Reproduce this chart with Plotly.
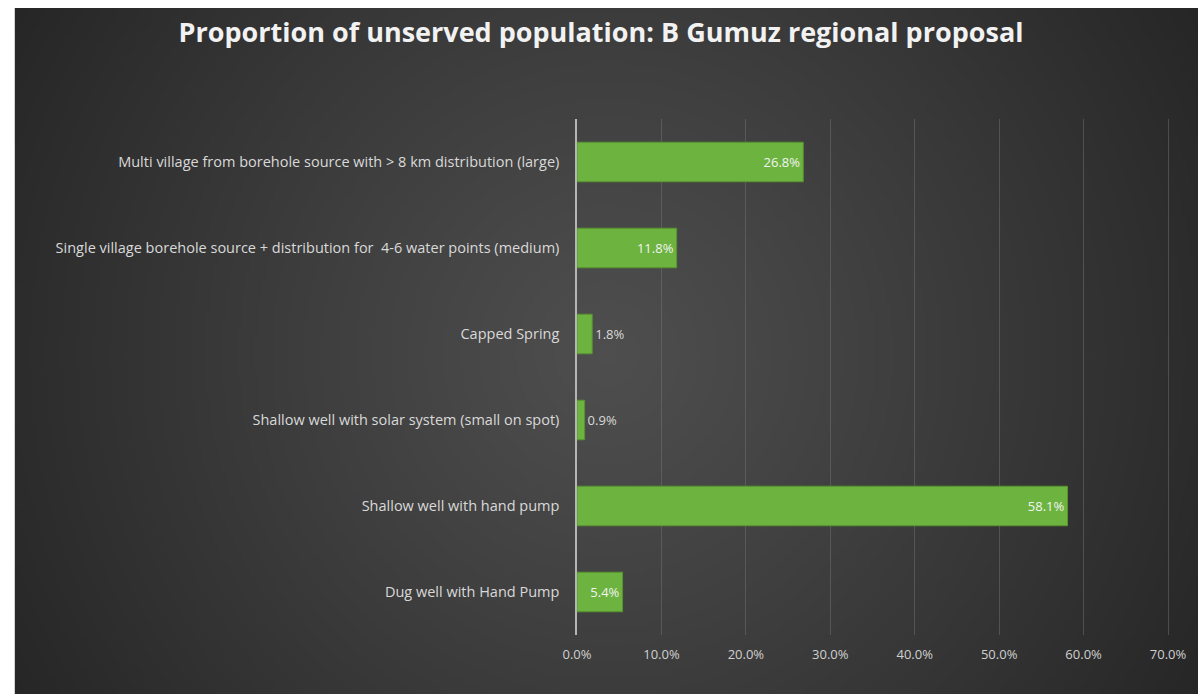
import base64
import struct
import zlib

import plotly.graph_objects as go

# Categories listed top to bottom as they appear on the chart
categories = [
    "Multi village from borehole source with > 8 km distribution (large)",
    "Single village borehole source + distribution for  4-6 water points (medium)",
    "Capped Spring",
    "Shallow well with solar system (small on spot)",
    "Shallow well with hand pump",
    "Dug well with Hand Pump",
]
shares = [0.268, 0.118, 0.018, 0.009, 0.581, 0.054]
x_ticks = [0.0, 0.1, 0.2, 0.3, 0.4, 0.5, 0.6, 0.7]
x_tick_labels = ["0.0%", "10.0%", "20.0%", "30.0%", "40.0%", "50.0%", "60.0%", "70.0%"]

W, H = 1198, 694
PLOT_L, PLOT_R, PLOT_T, PLOT_B = 577, 1174, 119, 635
CARD_L, CARD_T = 11, 8
X_MAX = 0.7 * (PLOT_R - PLOT_L) / 595  # a little headroom so the 70% gridline shows


def radial_png(w, h, c_center, c_edge):
    """Small grayscale PNG with a radial fade from the centre to the corners."""
    cx, cy = (w - 1) / 2, (h - 1) / 2
    rmax = (cx ** 2 + cy ** 2) ** 0.5
    raw = bytearray()
    for j in range(h):
        raw.append(0)
        for i in range(w):
            d = (((i - cx) ** 2 + (j - cy) ** 2) ** 0.5) / rmax
            d = min(d, 1.0) ** 1.1
            raw.append(int(round(c_center + (c_edge - c_center) * d)))

    def chunk(tag, data):
        c = struct.pack(">I", len(data)) + tag + data
        return c + struct.pack(">I", zlib.crc32(tag + data) & 0xFFFFFFFF)

    png = b"\x89PNG\r\n\x1a\n"
    png += chunk(b"IHDR", struct.pack(">IIBBBBB", w, h, 8, 0, 0, 0, 0))
    png += chunk(b"IDAT", zlib.compress(bytes(raw), 9))
    png += chunk(b"IEND", b"")
    return "data:image/png;base64," + base64.b64encode(png).decode()


bg_src = radial_png(300, 172, 78, 38)

pw, ph = PLOT_R - PLOT_L, PLOT_B - PLOT_T
img_x0 = (CARD_L - PLOT_L) / pw
img_x1 = (W + 6 - PLOT_L) / pw
img_y1 = (PLOT_B - CARD_T) / ph
img_y0 = (PLOT_B - H - 6) / ph

text_pos = ["inside" if v >= 0.04 else "outside" for v in shares]

fig = go.Figure()
fig.add_trace(
    go.Bar(
        x=shares,
        y=categories,
        orientation="h",
        marker=dict(color="#6cb43f", line=dict(color="#58942f", width=1)),
        text=[f"{v * 100:.1f}%" for v in shares],
        textposition=text_pos,
        insidetextanchor="end",
        constraintext="none",
        textfont=dict(family="Open Sans", size=13, color="#f2f2f2"),
        outsidetextfont=dict(family="Open Sans", size=13, color="#d9d9d9"),
        cliponaxis=False,
        hoverinfo="skip",
    )
)

fig.update_layout(
    width=W,
    height=H,
    margin=dict(l=PLOT_L, r=W - PLOT_R, t=PLOT_T, b=H - PLOT_B, pad=0),
    paper_bgcolor="#ffffff",
    plot_bgcolor="rgba(0,0,0,0)",
    bargap=0.54,
    showlegend=False,
    title=dict(
        text="<b>Proportion of unserved population: B Gumuz regional proposal</b>",
        x=601 / W,
        xref="container",
        xanchor="center",
        y=1 - 33 / H,
        yref="container",
        yanchor="middle",
        font=dict(family="Open Sans", size=27, color="#f2f2f2"),
    ),
    images=[
        dict(
            source=bg_src,
            xref="paper",
            yref="paper",
            x=img_x0,
            y=img_y1,
            sizex=img_x1 - img_x0,
            sizey=img_y1 - img_y0,
            xanchor="left",
            yanchor="top",
            sizing="stretch",
            layer="below",
        )
    ],
    xaxis=dict(
        range=[0, X_MAX],
        tickvals=x_ticks,
        ticktext=x_tick_labels,
        showgrid=True,
        gridcolor="rgba(120,120,120,0.45)",
        gridwidth=1,
        zeroline=False,
        showline=False,
        ticks="",
        ticklabelstandoff=10,
        tickfont=dict(family="Open Sans", size=13, color="#d0d0d0"),
        fixedrange=True,
    ),
    yaxis=dict(
        autorange="reversed",
        showgrid=False,
        zeroline=False,
        showline=True,
        linecolor="#b5b5b5",
        linewidth=1.5,
        ticks="",
        ticklabelstandoff=13,
        tickfont=dict(family="Open Sans", size=14.5, color="#d9d9d9"),
        fixedrange=True,
    ),
)

fig.write_html("out.html")
